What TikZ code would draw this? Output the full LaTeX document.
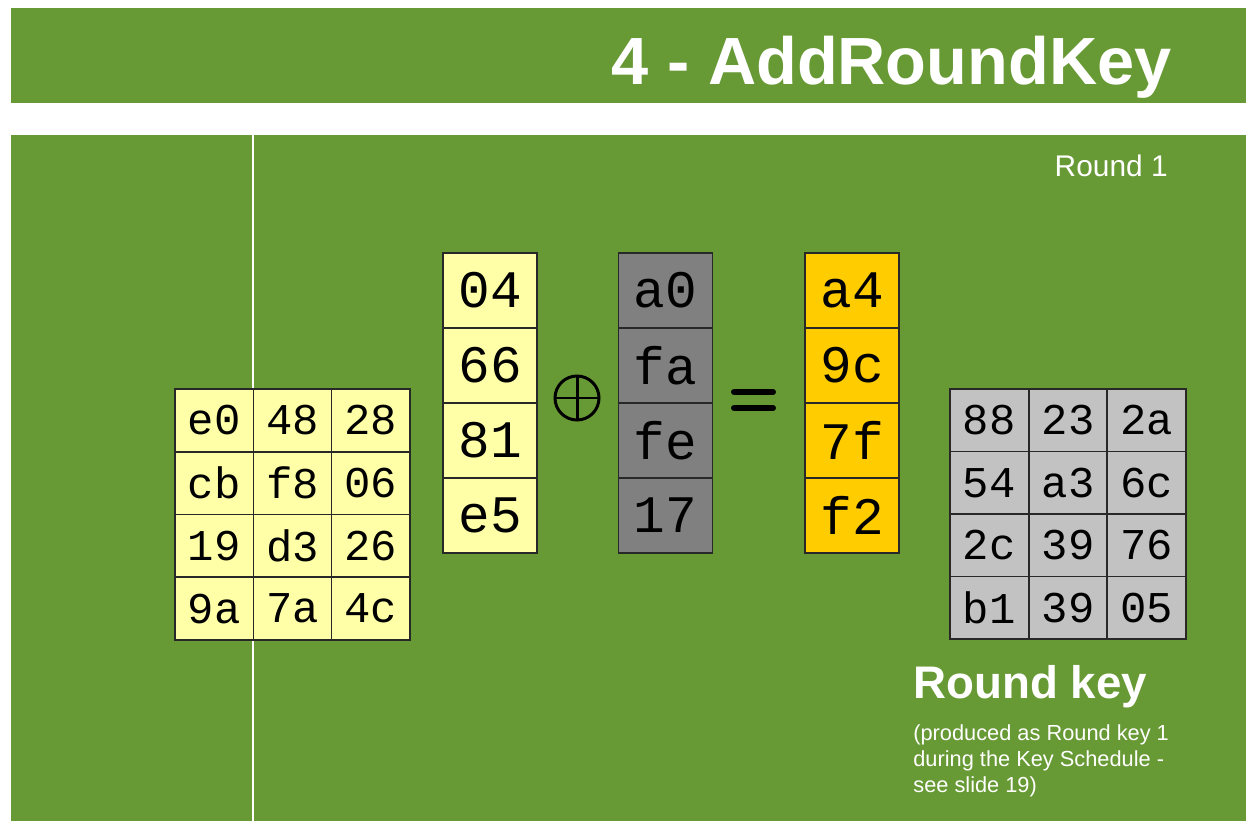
\documentclass[tikz,border=0pt]{standalone}
\usepackage{fontspec}
\setmainfont{Liberation Sans}
\newfontfamily\monof{Liberation Mono}
\definecolor{panel}{RGB}{103,153,52}
\definecolor{lyellow}{RGB}{255,255,168}
\definecolor{kgray}{RGB}{128,128,128}
\definecolor{lgray}{RGB}{194,194,194}
\definecolor{gold}{RGB}{255,204,0}
\definecolor{edge}{RGB}{40,40,40}
\tikzset{
  cellbase/.style={draw=edge, line width=0.9pt, inner sep=0pt, text=black},
  smallcell/.style={cellbase, minimum width=1.567cm, minimum height=1.255cm, font=\monof\fontsize{25}{25}\selectfont},
  bigcell/.style={cellbase, minimum width=1.88cm, minimum height=1.5cm, font=\monof\fontsize{30}{30}\selectfont},
  whitetext/.style={text=white, inner sep=0pt},
  notetext/.style={whitetext, anchor=base west, font=\fontsize{12.4}{14}\selectfont}
}
\begin{document}
\begin{tikzpicture}[x=0.02cm, y=-0.02cm]
\useasboundingbox (0,0) rectangle (1246,821);
\fill[white] (0,0) rectangle (1246,821);
% banner
\fill[panel] (11,8) rectangle (1246,103);
\node[whitetext, anchor=base east, font=\bfseries\fontsize{38}{40}\selectfont] (title) at (1172,85) {4 - AddRoundKey};
% main panel
\fill[panel] (11,135) rectangle (1246,821);
\draw[white, line width=1.2pt] (253,135) -- (253,821);
\node[whitetext, anchor=base east, font=\fontsize{17}{20}\selectfont] (round) at (1168,176) {Round 1};
% left matrix
\foreach \row [count=\r from 0] in {{e0,48,28},{cb,f8,06},{19,d3,26},{9a,7a,4c}} {
  \foreach \v [count=\c from 0] in \row {
    \node[smallcell, fill=lyellow] (L-\r-\c) at ({175+78.33*(\c+0.5)},{389+62.75*(\r+0.5)}) {\v};
  }
}
% columns
\foreach \v [count=\r from 0] in {04,66,81,e5} {
  \node[bigcell, fill=lyellow] (A-\r) at (490,{253+75*(\r+0.5)}) {\v};
}
\foreach \v [count=\r from 0] in {a0,fa,fe,17} {
  \node[bigcell, fill=kgray] (B-\r) at (665.5,{253+75*(\r+0.5)}) {\v};
}
\foreach \v [count=\r from 0] in {a4,9c,7f,f2} {
  \node[bigcell, fill=gold] (C-\r) at (852,{253+75*(\r+0.5)}) {\v};
}
% xor symbol
\coordinate (xor) at (577,398);
\draw[black, line width=1.7pt] (xor) circle[radius=22];
\draw[black, line width=1.7pt] ([xshift=-22*0.02cm]xor) -- ([xshift=22*0.02cm]xor);
\draw[black, line width=1.7pt] ([yshift=22*0.02cm]xor) -- ([yshift=-22*0.02cm]xor);
% equals
\draw[black, line width=3.4pt, line cap=round] (734,392) -- (773,392);
\draw[black, line width=3.4pt, line cap=round] (734,408) -- (773,408);
% right matrix
\foreach \row [count=\r from 0] in {{88,23,2a},{54,a3,6c},{2c,39,76},{b1,39,05}} {
  \foreach \v [count=\c from 0] in \row {
    \node[smallcell, fill=lgray] (R-\r-\c) at ({950+78.67*(\c+0.5)},{389+62.5*(\r+0.5)}) {\v};
  }
}
\node[whitetext, anchor=base west, font=\bfseries\fontsize{26}{30}\selectfont] (rk) at (913,698) {Round key};
\node[notetext] (n1) at (913,740) {(produced as Round key 1};
\node[notetext] (n2) at (913,766) {during the Key Schedule -};
\node[notetext] (n3) at (913,792) {see slide 19)};
\end{tikzpicture}
\end{document}
